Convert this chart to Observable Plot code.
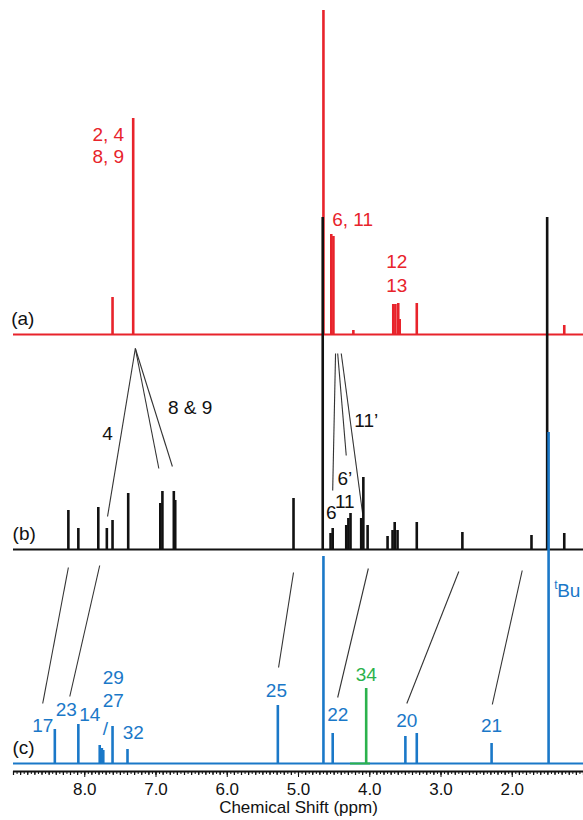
<!DOCTYPE html>
<html>
<head>
<meta charset="utf-8">
<script src="https://cdn.jsdelivr.net/npm/d3@7"></script>
<script src="https://cdn.jsdelivr.net/npm/@observablehq/plot@0.6"></script>
<style>
  html, body { margin: 0; padding: 0; background: #fff; }
  #chart svg { display: block; }
</style>
</head>
<body>
<div id="chart"></div>
<script>
// ---- Data (ppm positions and peak heights in arbitrary intensity units) ----
// Spectrum (a), red
const aPpm    = [7.61, 7.32, 4.65, 4.54, 4.51, 4.23, 3.67, 3.64, 3.60, 3.58, 3.34, 1.27];
const aHeight = [37,   216,  324,  100,  98,   4,    30,   30,   31,   15,   31,   9];
// Spectrum (b), black
const bPpm    = [8.23, 8.09, 7.81, 7.69, 7.61, 7.39, 6.94, 6.91, 6.75, 6.73, 5.07, 4.66, 4.55, 4.52, 4.33, 4.30, 4.27, 4.12, 4.09, 4.03, 3.75, 3.68, 3.65, 3.61, 3.34, 2.70, 1.73, 1.51, 1.27];
const bHeight = [39,   21,   42,   21,   29,   56,   46,   58,   58,   49,   51,   332,  16,   21,   24,   31,   36,   31,   72,   24,   13,   19,   27,   19,   27,   17,   14,   332,  16];
// Spectrum (c), blue
const cPpm    = [8.42, 8.09, 7.79, 7.76, 7.74, 7.61, 7.40, 5.29, 4.65, 4.52, 3.50, 3.34, 2.29, 1.49];
const cHeight = [34,   39,   18,   15,   13,   37,   14,   58,   207,  30,   27,   30,   20,   331];
// Spectrum (c), green signal 34
const gPpm    = [4.05];
const gHeight = [75];
const gSpan   = [4.27, 3.99];

// Baseline offsets of the stacked spectra
const offsets = {a: 437, b: 222, c: 8};

// Axis ticks
const majorTicks = [2.0, 3.0, 4.0, 5.0, 6.0, 7.0, 8.0];
const xDomain = [9.0, 1.0];

// Peak labels: text, ppm, height (same units as the y scale)
const redLabels   = ["2, 4", "8, 9", "6, 11", "12", "13"];
const redLabX     = [7.67, 7.67, 4.24, 3.62, 3.62];
const redLabY     = [637, 615, 552, 510, 486];
const blackLabels = ["4", "8 & 9", "11’", "6’", "11", "6"];
const blackLabX   = [7.68, 6.52, 4.05, 4.35, 4.35, 4.54];
const blackLabY   = [338, 364, 351, 293, 270, 259];
const blueLabels  = ["17", "23", "14", "29", "27", "/", "32", "25", "22", "20", "21"];
const blueLabX    = [8.59, 8.26, 7.93, 7.60, 7.60, 7.71, 7.32, 5.31, 4.45, 3.48, 2.29];
const blueLabY    = [46, 62, 57, 94, 71, 43, 39, 81, 57, 51, 46];
const greenLabels = ["34"];
const greenLabX   = [4.05];
const greenLabY   = [97];
const panelLabels = ["(a)", "(b)", "(c)"];
const panelLabX   = [8.87, 8.85, 8.86];
const panelLabY   = [453, 238, 24];

// Connector lines between spectra: [x1, y1, x2, y2]
const connX1 = [7.29, 7.29, 7.29, 4.48, 4.45, 4.40, 8.23, 7.79, 5.07, 4.02, 2.75, 1.86];
const connY1 = [423,  423,  423,  418,  418,  418,  204,  206,  199,  203,  200,  201];
const connX2 = [7.68, 6.96, 6.77, 4.52, 4.33, 4.10, 8.59, 8.21, 5.28, 4.45, 3.48, 2.28];
const connY2 = [255,  303,  305,  281,  316,  258,  68,   75,   104,  74,   68,   67];

// ---- Build tables ----
const toPeaks = (ppm, h) => ppm.map((p, i) => ({ppm: p, h: h[i]}));
const toLabels = (t, x, y) => t.map((s, i) => ({text: s, x: x[i], y: y[i]}));
const peaksA = toPeaks(aPpm, aHeight);
const peaksB = toPeaks(bPpm, bHeight);
const peaksC = toPeaks(cPpm, cHeight);
const peaksG = toPeaks(gPpm, gHeight);
const conns = connX1.map((x, i) => ({x1: x, y1: connY1[i], x2: connX2[i], y2: connY2[i]}));
const minorTicks = d3.range(20, 181, 1).map(d => +(d * 0.05).toFixed(2));
const tenthTicks = d3.range(10, 91, 1).map(d => +(d * 0.1).toFixed(1));

const RED = "#e8232b", BLACK = "#111111", BLUE = "#1a78c8", GREEN = "#2bb24c";
const FONT = "'Liberation Sans', Arial, Helvetica, sans-serif";

const spectrum = (peaks, off, color) => [
  Plot.ruleY([off], {stroke: color, strokeWidth: 2}),
  Plot.ruleX(peaks, {x: "ppm", y1: off, y2: d => off + d.h, stroke: color, strokeWidth: 2.6})
];

const chart = Plot.plot({
  width: 583,
  height: 820,
  marginLeft: 13,
  marginRight: 0,
  marginTop: 0,
  marginBottom: 49,
  x: {domain: xDomain, axis: null},
  y: {domain: [0, 771], axis: null},
  style: {fontFamily: FONT, fontSize: "17px", color: "#111", background: "#fff"},
  marks: [
    // connectors
    Plot.link(conns, {x1: "x1", y1: "y1", x2: "x2", y2: "y2", stroke: "#333", strokeWidth: 1.1}),
    // spectra
    ...spectrum(peaksA, offsets.a, RED),
    ...spectrum(peaksB, offsets.b, BLACK),
    ...spectrum(peaksC, offsets.c, BLUE),
    Plot.ruleY([offsets.c], {x1: gSpan[0], x2: gSpan[1], stroke: GREEN, strokeWidth: 2}),
    Plot.ruleX(peaksG, {x: "ppm", y1: offsets.c, y2: d => offsets.c + d.h, stroke: GREEN, strokeWidth: 2.6}),
    // x axis
    Plot.ruleY([0], {stroke: "#111", strokeWidth: 2}),
    Plot.ruleX(minorTicks, {x: d => d, y1: 0, y2: -3, stroke: "#111", strokeWidth: 1}),
    Plot.ruleX(tenthTicks, {x: d => d, y1: 0, y2: -4, stroke: "#111", strokeWidth: 1.2}),
    Plot.axisX({ticks: majorTicks, tickSize: 6, tickPadding: 5, tickFormat: d => d.toFixed(1), fontSize: 17, label: null, stroke: "#111"}),
    Plot.text(["Chemical Shift (ppm)"], {frameAnchor: "bottom", dy: 41, fontSize: 17, fill: "#111"}),
    // labels
    Plot.text(toLabels(redLabels, redLabX, redLabY), {x: "x", y: "y", text: "text", fill: RED, fontSize: 19}),
    Plot.text(toLabels(blackLabels, blackLabX, blackLabY), {x: "x", y: "y", text: "text", fill: BLACK, fontSize: 19}),
    Plot.text(toLabels(blueLabels, blueLabX, blueLabY), {x: "x", y: "y", text: "text", fill: BLUE, fontSize: 19}),
    Plot.text(toLabels(greenLabels, greenLabX, greenLabY), {x: "x", y: "y", text: "text", fill: GREEN, fontSize: 19}),
    Plot.text(toLabels(panelLabels, panelLabX, panelLabY), {x: "x", y: "y", text: "text", fill: BLACK, fontSize: 19}),
    Plot.text(["t"], {x: 1.41, y: 186, text: d => d, fill: BLUE, fontSize: 12, textAnchor: "start"}),
    Plot.text(["Bu"], {x: 1.37, y: 181, text: d => d, fill: BLUE, fontSize: 19, textAnchor: "start"})
  ]
});

document.getElementById("chart").appendChild(chart);
</script>
</body>
</html>
